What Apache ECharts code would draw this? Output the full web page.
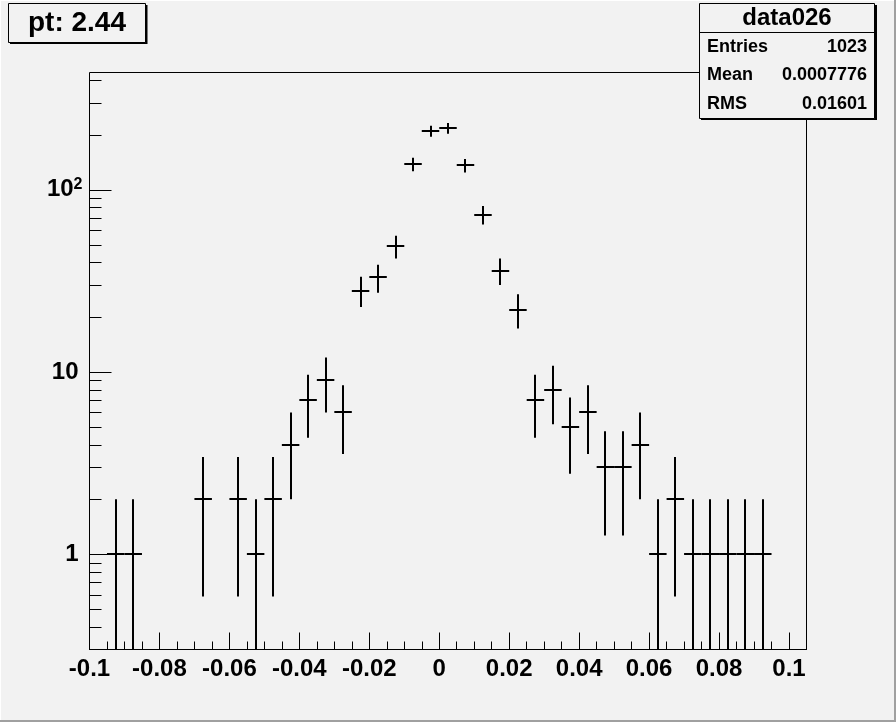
<!DOCTYPE html>
<html>
<head>
<meta charset="utf-8">
<script src="https://cdn.jsdelivr.net/npm/echarts@6/dist/echarts.min.js"></script>
<style>
html,body{margin:0;padding:0;background:#f2f2f2;}
#chart{width:896px;height:722px;}
</style>
</head>
<body>
<div id="chart"></div>
<script>
// ---- data ----
const binCenters = [-0.0925, -0.0875, -0.0675, -0.0575, -0.0525, -0.0475, -0.0425, -0.0375, -0.0325, -0.0275,
  -0.0225, -0.0175, -0.0125, -0.0075, -0.0025, 0.0025, 0.0075, 0.0125, 0.0175, 0.0225,
  0.0275, 0.0325, 0.0375, 0.0425, 0.0475, 0.0525, 0.0575, 0.0625, 0.0675, 0.0725,
  0.0775, 0.0825, 0.0875, 0.0925];
const counts = [1, 1, 2, 2, 1, 2, 4, 7, 9, 6,
  28, 33, 49, 138, 210, 218, 136, 73, 36, 22,
  7, 8, 5, 6, 3, 3, 4, 1, 2, 1,
  1, 1, 1, 1];
const binWidth = 0.005;
const xMin = -0.1, xMax = 0.105, xInterval = 0.02;
const yMin = 0.3, yMax = 440;
const yMinorTicks = [0.4, 0.5, 0.6, 0.7, 0.8, 0.9, 2, 3, 4, 5, 6, 7, 8, 9, 20, 30, 40, 50, 60, 70, 80, 90, 200, 300, 400];
const yTickLabels = {1: '{n|1}{sp|}', 10: '{n|10}{sp|}', 100: '{n|10}{sup|2}'};
const titleText = 'pt: 2.44';
const statsTitle = 'data026';
const statsLabels = ['Entries', 'Mean', 'RMS'];
const statsValues = ['1023', '0.0007776', '0.01601'];

// ---- build ----
const errData = binCenters.map((x, i) => [x, counts[i], Math.sqrt(counts[i])]);
const FONT = '"Liberation Sans", Arial, Helvetica, sans-serif';
const BG = '#f2f2f2';

const chart = echarts.init(document.getElementById('chart'), null, {renderer: 'canvas'});

const statsRowsY = [47, 75.5, 104];
const statsGraphics = [];
statsLabels.forEach((lab, i) => {
  statsGraphics.push({type: 'text', x: 707, y: statsRowsY[i],
    style: {text: lab, font: 'bold 18px ' + FONT, fill: '#000', textAlign: 'left', textVerticalAlign: 'middle'}});
  statsGraphics.push({type: 'text', x: 867, y: statsRowsY[i],
    style: {text: statsValues[i], font: 'bold 18px ' + FONT, fill: '#000', textAlign: 'right', textVerticalAlign: 'middle'}});
});

const option = {
  backgroundColor: BG,
  animation: false,
  grid: {left: 89.5, top: 72.5, right: 89.5, bottom: 72.5, show: true, borderColor: '#000', borderWidth: 1,
    backgroundColor: BG, containLabel: false, outerBoundsMode: 'none'},
  xAxis: [{
    type: 'value', min: xMin, max: xMax, interval: xInterval,
    axisLine: {show: true, onZero: false, lineStyle: {color: '#000', width: 1}},
    axisTick: {show: true, inside: true, length: 17, lineStyle: {color: '#000', width: 1}},
    splitLine: {show: false},
    axisLabel: {show: true, margin: 8, color: '#000', fontFamily: FONT, fontWeight: 'bold', fontSize: 24,
      showMaxLabel: false,
      formatter: v => { const r = Math.round(v * 1000) / 1000; return r > 0.1001 ? '' : String(r); }}
  }, {
    type: 'value', min: xMin, max: xMax, interval: binWidth, position: 'bottom',
    axisLine: {show: false, onZero: false},
    axisTick: {show: true, inside: true, length: 8, lineStyle: {color: '#000', width: 1}},
    splitLine: {show: false},
    axisLabel: {show: false}
  }],
  yAxis: {
    type: 'log', logBase: 10, min: yMin, max: yMax, position: 'left',
    axisLine: {show: false, onZero: false},
    axisTick: {show: true, inside: true, length: 22, lineStyle: {color: '#000', width: 1}},
    splitLine: {show: false},
    minorTick: {show: false},
    axisLabel: {
      show: true, margin: 7, showMinLabel: false, showMaxLabel: false,
      formatter: v => {
        const k = Math.round(v);
        if (Math.abs(v - k) < 1e-6 && yTickLabels[k]) return yTickLabels[k];
        return '';
      },
      rich: {
        n: {fontFamily: FONT, fontWeight: 'bold', fontSize: 24, color: '#000', lineHeight: 26},
        sp: {width: 4},
        sup: {fontFamily: FONT, fontWeight: 'bold', fontSize: 16, color: '#000', verticalAlign: 'top', lineHeight: 26, padding: [0, 0, 12, 0]}
      }
    }
  },
  series: [{
    type: 'custom', xAxisIndex: 0, yAxisIndex: 0, clip: true,
    encode: {x: 0, y: 1},
    data: errData,
    renderItem: (params, api) => {
      const x = api.value(0), y = api.value(1), e = api.value(2);
      const lo = Math.max(y - e, yMin), hi = y + e;
      const pc = api.coord([x, y]);
      const plo = api.coord([x, lo]);
      const phi = api.coord([x, hi]);
      const pl = api.coord([x - binWidth / 2, y]);
      const pr = api.coord([x + binWidth / 2, y]);
      const cx = Math.round(pc[0]);
      const cy = Math.round(pc[1]);
      return {type: 'group', children: [
        {type: 'line', shape: {x1: cx, y1: plo[1], x2: cx, y2: phi[1]}, style: {stroke: '#000', lineWidth: 2}},
        {type: 'line', shape: {x1: pl[0], y1: cy, x2: pr[0], y2: cy}, style: {stroke: '#000', lineWidth: 2}}
      ]};
    }
  }, {
    type: 'custom', xAxisIndex: 0, yAxisIndex: 0, clip: false,
    encode: {x: 0, y: 1},
    data: yMinorTicks.map(v => [xMin, v]),
    renderItem: (params, api) => {
      const p = api.coord([api.value(0), api.value(1)]);
      const y = Math.round(p[1]) + 0.5;
      return {type: 'line', shape: {x1: p[0], y1: y, x2: p[0] + 12, y2: y}, style: {stroke: '#000', lineWidth: 1}};
    }
  }],
  graphic: [
    // canvas bevel
    {type: 'rect', shape: {x: 0, y: 0, width: 896, height: 1}, style: {fill: '#ffffff'}, silent: true},
    {type: 'rect', shape: {x: 0, y: 0, width: 1, height: 722}, style: {fill: '#ffffff'}, silent: true},
    {type: 'rect', shape: {x: 894, y: 0, width: 2, height: 722}, style: {fill: '#a0a0a0'}, silent: true},
    {type: 'rect', shape: {x: 0, y: 720, width: 896, height: 2}, style: {fill: '#a0a0a0'}, silent: true},
    // title box
    {type: 'rect', shape: {x: 10, y: 5, width: 137.5, height: 39}, style: {fill: '#000'}, z: 100},
    {type: 'rect', shape: {x: 8.5, y: 3.5, width: 137, height: 39}, style: {fill: BG, stroke: '#000', lineWidth: 1}, z: 101},
    {type: 'text', x: 77, y: 23.5, z: 102,
      style: {text: titleText, font: 'bold 28px ' + FONT, fill: '#000', textAlign: 'center', textVerticalAlign: 'middle'}},
    // stats box
    {type: 'rect', shape: {x: 701, y: 5, width: 176, height: 115}, style: {fill: '#000'}, z: 100},
    {type: 'rect', shape: {x: 699.5, y: 3.5, width: 175, height: 115}, style: {fill: BG, stroke: '#000', lineWidth: 1}, z: 101},
    {type: 'line', shape: {x1: 699.5, y1: 32.5, x2: 874.5, y2: 32.5}, style: {stroke: '#000', lineWidth: 1}, z: 102},
    {type: 'text', x: 787, y: 18.5, z: 102,
      style: {text: statsTitle, font: 'bold 24px ' + FONT, fill: '#000', textAlign: 'center', textVerticalAlign: 'middle'}}
  ].concat(statsGraphics.map(g => Object.assign({z: 102}, g)))
};
chart.setOption(option);
</script>
</body>
</html>
